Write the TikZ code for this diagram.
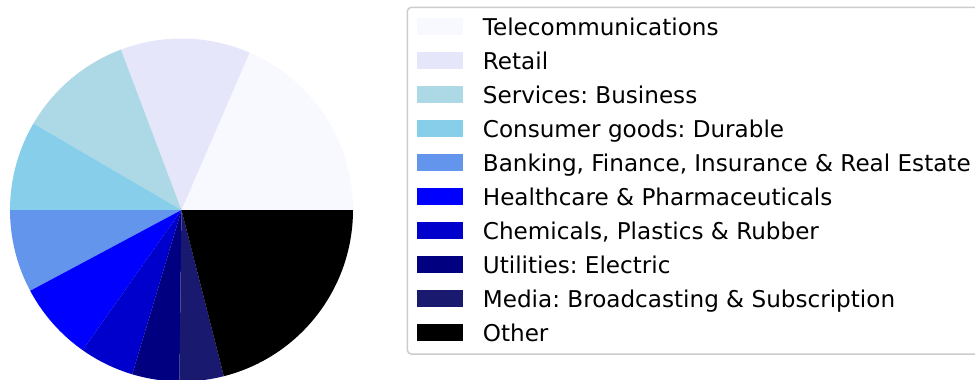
\documentclass[tikz,border=0pt]{standalone}
\usepackage{fontspec}
\setmainfont{DejaVu Sans}
\frenchspacing
\definecolor{cTele}{HTML}{F8F8FF}
\definecolor{cRetail}{HTML}{E6E6FA}
\definecolor{cServ}{HTML}{ADD8E6}
\definecolor{cCons}{HTML}{87CEEB}
\definecolor{cBank}{HTML}{6495ED}
\definecolor{cHealth}{HTML}{0000FF}
\definecolor{cChem}{HTML}{0000CD}
\definecolor{cUtil}{HTML}{000080}
\definecolor{cMedia}{HTML}{191970}
\definecolor{cOther}{HTML}{000000}
\definecolor{cFrame}{HTML}{CCCCCC}
\tikzset{
  legtext/.style={anchor=base west, inner sep=0pt, font=\fontsize{23.1bp}{27bp}\selectfont},
  legframe/.style={draw=cFrame, line width=1.5bp, rounded corners=4bp, fill=white},
}
\begin{document}
\begin{tikzpicture}[x=1bp,y=-1bp]
\useasboundingbox (0,0) rectangle (975,379);
\clip (0,0) rectangle (975,379);
% pie
\coordinate (c) at (181.5,210);
\def\R{171.5}
\foreach \a/\b/\col in {0/66.6/cTele, 66.6/110.7/cRetail, 110.7/149.7/cServ, 149.7/180/cCons, 180/208.1/cBank, 208.1/234.8/cHealth, 234.8/253.3/cChem, 253.3/269.3/cUtil, 269.3/284.3/cMedia, 284.3/360/cOther}{
  \fill[\col] (c) -- ++({\R*cos(\a)},{-\R*sin(\a)}) arc[start angle=-\a, end angle=-\b, radius=\R] -- cycle;
}
% legend
\draw[legframe] (407.3,7.3) rectangle (995,354);
\foreach \i/\col/\txt in {0/cTele/Telecommunications, 1/cRetail/Retail, 2/cServ/Services: Business, 3/cCons/Consumer goods: Durable, 4/cBank/{Banking, Finance, Insurance \& Real Estate}, 5/cHealth/Healthcare \& Pharmaceuticals, 6/cChem/{Chemicals, Plastics \& Rubber}, 7/cUtil/Utilities: Electric, 8/cMedia/Media: Broadcasting \& Subscription, 9/cOther/Other}{
  \pgfmathsetmacro{\yc}{26.7+34*\i}
  \fill[\col] (417.3,\yc-8.35) rectangle (462.7,\yc+8.35);
  \node[legtext] (t\i) at (482.7,\yc+8.3) {\txt};
}
\end{tikzpicture}
\end{document}
